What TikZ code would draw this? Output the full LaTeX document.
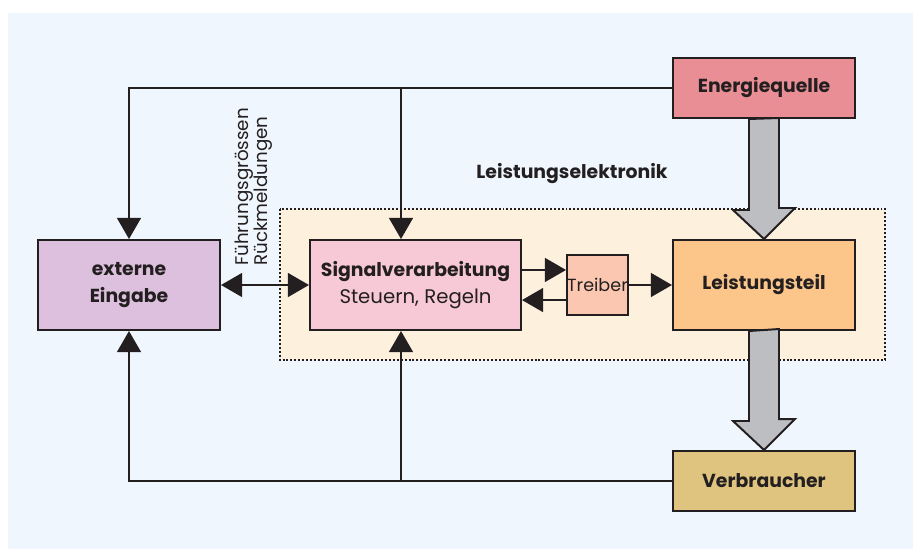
\documentclass[tikz,border=0pt]{standalone}
\usepackage{fontspec}
\setmainfont{Poppins}
\usetikzlibrary{arrows.meta}
\definecolor{lin}{HTML}{231F20}
\definecolor{hgrund}{HTML}{EFF6FD}
\definecolor{lefill}{HTML}{FDF0DC}
\definecolor{quellfill}{HTML}{E98E94}
\definecolor{eingfill}{HTML}{DDC0DD}
\definecolor{sigfill}{HTML}{F7C9D6}
\definecolor{treibfill}{HTML}{FBC7B0}
\definecolor{leistfill}{HTML}{FCC68B}
\definecolor{verbfill}{HTML}{DFC47F}
\definecolor{grau}{HTML}{BDBEC2}
\begin{document}
\begin{tikzpicture}[x=0.025cm,y=-0.025cm,
  every node/.style={font=\fontsize{13.4}{19}\selectfont,text=lin},
  box/.style={draw=lin,line width=1.4pt,minimum width=4.55cm,minimum height=2.25cm,align=center,inner sep=2pt},
  flat/.style={box,minimum height=1.5cm},
  conn/.style={draw=lin,line width=1.2pt},
  >={Triangle[length=15pt,width=17pt]},
  fat/.style={draw=lin,line width=1.4pt,fill=grau,line join=miter}]
% background and frame
\useasboundingbox (0,0) rectangle (913,549);
\fill[hgrund] (8,13) rectangle (913,549);
\draw[lin,fill=lefill,line width=1.4pt,dash pattern=on 1.4pt off 1.4pt] (280,209) rectangle (885,360);
\node[font=\fontsize{13.4}{19}\selectfont\bfseries] (le) at (572,174) {Leistungselektronik};
% blocks
\node[flat,fill=quellfill] (quelle) at (764,88) {\bfseries Energiequelle};
\node[box,fill=eingfill] (eingabe) at (129,285) {\bfseries externe\\\bfseries Eingabe};
\node[box,fill=sigfill,minimum width=5.275cm] (signal) at (415.5,285) {\bfseries Signalverarbeitung\\\fontsize{14}{19}\selectfont Steuern, Regeln};
\node[box,fill=treibfill,minimum width=1.525cm,minimum height=1.5cm,inner sep=0pt,font=\fontsize{12.5}{14}\selectfont] (treiber) at (597.5,285) {Treiber};
\node[box,fill=leistfill] (leistung) at (764,285) {\bfseries Leistungsteil};
\node[flat,fill=verbfill] (verbr) at (764,481) {\bfseries Verbraucher};
\node[rotate=90,anchor=north west,align=left,inner sep=0pt,font=\fontsize{13}{13.5}\selectfont] (fuehr) at (235,266) {Führungsgrössen\\Rückmeldungen};
% power flow
\draw[fat] (quelle.south) ++(-15,0) -- ++(0,91) -- ++(-16,0) -- (leistung.north) -- ++(31,-31) -- ++(-16,0) -- ++(0,-90) -- cycle;
\draw[fat] (leistung.south) ++(-15,0) -- ++(0,90) -- ++(-16,0) -- (verbr.north) -- ++(31,-31) -- ++(-16,0) -- ++(0,-90) -- cycle;
% signal lines
\coordinate (ab) at (401,88);
\coordinate (zu) at (401,481);
\draw[conn,->] (quelle.west) -| (eingabe.north);
\draw[conn,->] (ab) -- (ab |- signal.north);
\draw[conn,->] (verbr.west) -| (eingabe.south);
\draw[conn,->] (zu) -- (zu |- signal.south);
\draw[conn,<->] (eingabe) -- (signal);
\draw[conn,->] ([yshift=10.7pt]signal.east) -- ([yshift=10.7pt]signal.east -| treiber.west);
\draw[conn,->] ([yshift=-10.7pt]treiber.west) -- ([yshift=-10.7pt]treiber.west -| signal.east);
\draw[conn,->] (treiber) -- (leistung);
\end{tikzpicture}
\end{document}
